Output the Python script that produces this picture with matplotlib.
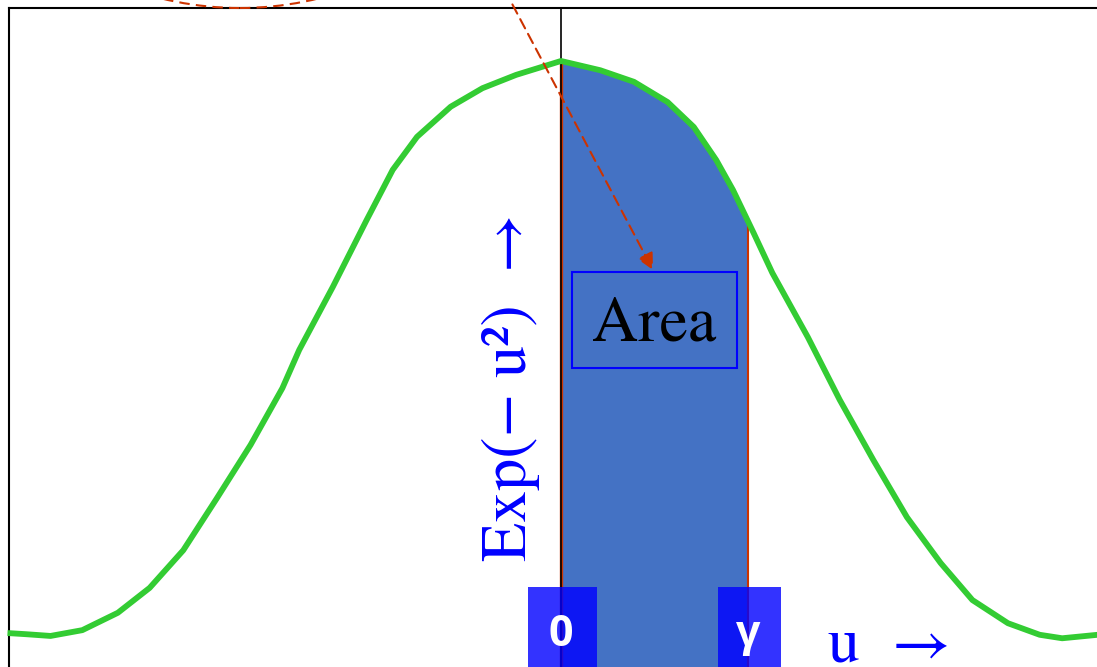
import numpy as np
import matplotlib
matplotlib.use("Agg")
import matplotlib.pyplot as plt
from matplotlib.patches import Ellipse, Rectangle

# ---- data ----
u_vals = [-2.96, -2.86, -2.73, -2.56, -2.37, -2.20, -2.02, -1.84, -1.66, -1.49,
          -1.40, -1.22, -1.04, -0.90, -0.77, -0.59, -0.42, -0.24, 0.00,
          0.21, 0.39, 0.57, 0.71, 0.83, 0.92, 1.03, 1.13, 1.32, 1.49, 1.67,
          1.85, 2.03, 2.20, 2.39, 2.56, 2.68, 2.87, 3.00]
y_vals = [0.012, 0.010, 0.007, 0.017, 0.047, 0.090, 0.155, 0.245, 0.337, 0.435,
          0.501, 0.610, 0.725, 0.812, 0.869, 0.921, 0.953, 0.976, 1.000,
          0.984, 0.964, 0.929, 0.886, 0.829, 0.777, 0.703, 0.634, 0.523, 0.415, 0.311,
          0.212, 0.133, 0.069, 0.029, 0.009, 0.003, 0.009, 0.015]
gamma = 1.0
tick_positions = [0.0, gamma]
tick_labels = ["0", "\u03b3"]
tick_box_widths = [0.369, 0.337]

RED = "#CC3300"
BLUE = "#0000FF"
SERIF = ["STIXGeneral", "Liberation Serif", "DejaVu Serif"]
W, H = 1097, 667

fig = plt.figure(figsize=(W / 100, H / 100), dpi=100)
ax = fig.add_axes([9 / W, 1 - 697.9 / H, 1113 / W, (697.9 - 8) / H])
ax.set_xlim(-2.952, 3.0)
ax.set_ylim(-0.1, 1.0915)
ax.set_xticks([])
ax.set_yticks([])
for s in ["right", "bottom"]:
    ax.spines[s].set_visible(False)
for s in ["top", "left"]:
    ax.spines[s].set_linewidth(1.5)
    ax.spines[s].set_color("black")

u = np.array(u_vals)
y = np.array(y_vals)

# filled area between 0 and gamma
fill = ax.fill_between(u, y, -0.5, color="#4472C4", lw=0, zorder=1)
clip = Rectangle((0, -1), gamma, 3, transform=ax.transData)
fill.set_clip_path(clip)
y_g = np.interp(gamma, u, y)
y_0 = np.interp(0.0, u, y)
ax.plot([0, 0], [-0.5, y_0], color=RED, lw=2.4, zorder=2)
ax.plot([gamma, gamma], [-0.5, y_g], color=RED, lw=1.5, zorder=2)
ax.axvline(0, color="black", lw=1.2, zorder=3)

# the curve
ax.plot(u, y, color="#33CC33", lw=4.2, solid_joinstyle="round",
        solid_capstyle="butt", zorder=4, clip_on=False)

# Area box
ax.add_patch(Rectangle((0.059, 0.470), 0.882, 0.166, fill=False,
                       ec=BLUE, lw=1.5, zorder=5))
ax.text(0.5, 0.543, "Area", fontsize=46, family=SERIF,
        color="black", ha="center", va="center", zorder=6)

# dashed arrow pointing to the box
ax.annotate("", xy=(0.492, 0.639), xytext=(-0.385, 1.174),
            arrowprops=dict(arrowstyle="-|>,head_length=1.0,head_width=0.5",
                            linestyle=(0, (5, 3)), color=RED, lw=1.5,
                            shrinkA=0, shrinkB=0),
            annotation_clip=False, zorder=6)

# dashed circle at the top
ax.add_patch(Ellipse((-1.717, 1.658), 3.508, 1.133, fill=False, ec=RED,
                     ls=(0, (5, 3)), lw=1.5, clip_on=False, zorder=6))

# tick label boxes
for pos, lab, w in zip(tick_positions, tick_labels, tick_box_widths):
    ax.add_patch(Rectangle((pos - w / 2 + 0.01, -0.5), w, 0.5915, color=BLUE,
                           alpha=0.8, lw=0, zorder=7, clip_on=False))
    ax.text(pos, -0.0104, lab, color="white", fontsize=31, fontweight="bold",
            family=["Open Sans", "DejaVu Sans"], ha="center", va="baseline",
            zorder=8)

# axis labels
fig.text(511 / W, 1 - 387 / H, "Exp(\u2212 u\u00b2)  \u2192", rotation=90,
         color=BLUE, fontsize=46, family=SERIF, ha="center", va="center")
fig.text(828 / W, 1 - 662 / H, "u  \u2192", color=BLUE, fontsize=46,
         family=SERIF, ha="left", va="baseline")

fig.savefig("out.png", dpi=100)
